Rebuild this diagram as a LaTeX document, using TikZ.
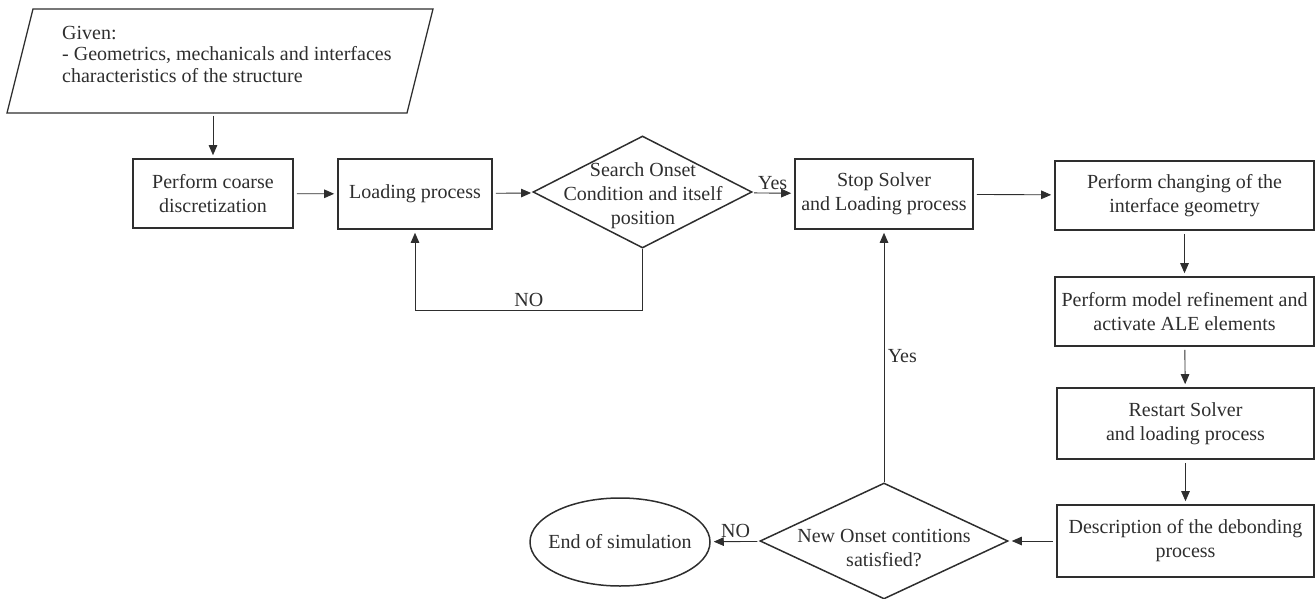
\documentclass[tikz,border=0pt]{standalone}
\usepackage{fontspec}
\setmainfont{Liberation Serif}
\usepackage{xcolor}
\usetikzlibrary{arrows.meta,positioning,calc,shapes.geometric}

\definecolor{ink}{HTML}{2E2E2E}

\begin{document}
\begin{tikzpicture}[x=1pt,y=-1pt,
  font=\fontsize{20}{24}\selectfont, text=ink,
  box/.style={draw=ink, line width=1.6pt, rectangle, align=center, inner sep=0pt},
  decision/.style={draw=ink, line width=1.5pt, diamond, aspect=2, inner sep=0pt},
  conn/.style={-{Triangle[length=10pt,width=8.5pt]}, draw=ink, line width=0.9pt, shorten >=3pt, shorten <=3pt}]
\useasboundingbox (0,0) rectangle (1316,599);

% Input data
\coordinate (gbl) at (7,113);
\coordinate (gtl) at (33,9);
\coordinate (gtr) at (433,9);
\coordinate (gbr) at (407,113);
\draw[draw=ink, line width=1.3pt, line join=miter] (gbl) -- (gtl) -- (gtr) -- (gbr) -- cycle;
\node[anchor=west, align=left, inner sep=0pt, font=\fontsize{20}{21.5}\selectfont] (given) at (62,54)
  {Given:\\- Geometrics, mechanicals and interfaces\\characteristics of the structure};

% Top row
\node[box, minimum width=160, minimum height=69] (coarse) at (213,193.5) {Perform coarse\\discretization};
\node[box, minimum width=154, minimum height=70] (load) at (415,194) {Loading process};
\node[decision, minimum width=219, minimum height=112] (search) at (642.5,192) {};
\node[align=center, inner sep=0pt] (searchtxt) at (643,196) {Search Onset\\Condition and itself\\position};
\node[box, minimum width=178, minimum height=70] (stop) at (884,194) {Stop Solver\\and Loading process};
\node[box, minimum width=259, minimum height=69] (change) at (1184.5,195.5) {Perform changing of the\\interface geometry};

% Right column
\node[box, minimum width=259, minimum height=69] (refine) at (1184.5,311.5) {Perform model refinement and\\activate ALE elements};
\node[box, minimum width=257, minimum height=71] (restart) at (1185.5,423.5) {Restart Solver\\and loading process};
\node[box, minimum width=257, minimum height=72] (debond) at (1185.5,541) {Description of the debonding\\process};

% Bottom row
\node[decision, minimum width=248, minimum height=116] (onset) at (884,541) {};
\node[align=center, inner sep=0pt] (onsettxt) at (884,548) {New Onset contitions\\satisfied?};
\node[draw=ink, line width=1.5pt, ellipse, minimum width=180, minimum height=88, inner sep=0pt] (finish) at (620,542) {};
\node[inner sep=0pt] (finishtxt) at (finish) {End of simulation};

% Connectors
\draw[conn] (coarse |- gbl) -- (coarse);
\draw[conn] (coarse) -- (load);
\draw[conn] (load) -- (search);
\draw[conn] (search) -- node[above] {Yes} (stop);
\draw[conn, shorten <=0pt] (search.south) -- ++(0,62) -| node[pos=0.25, above] {NO} (load.south);
\draw[conn] (stop) -- (change);
\draw[conn] (change) -- (refine);
\draw[conn] (refine) -- (restart);
\draw[conn] (restart) -- (debond);
\draw[conn] (debond) -- (onset);
\draw[conn] (onset) -- node[above] {NO} (finish);
\draw[conn, shorten <=0pt] (onset.north) -- node[right] {Yes} (onset.north |- stop.south);
\end{tikzpicture}
\end{document}
